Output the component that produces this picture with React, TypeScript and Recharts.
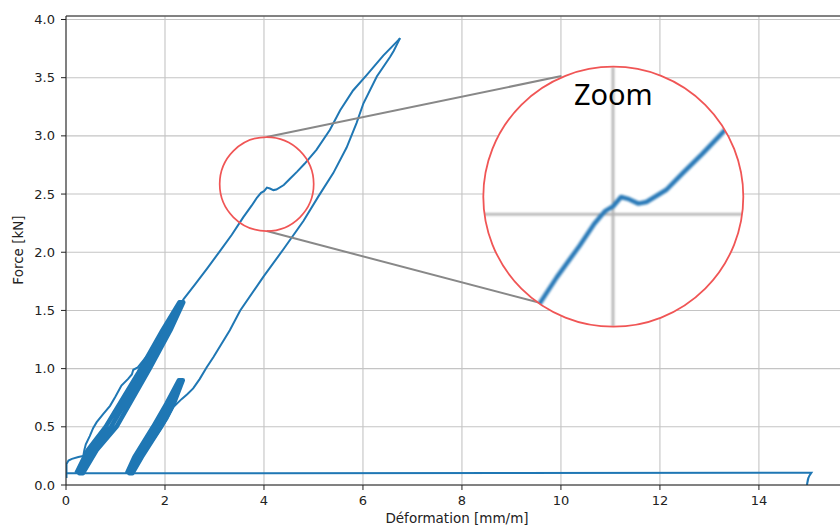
import React from 'react';
import { LineChart, Line, XAxis, YAxis, CartesianGrid, ReferenceLine, ReferenceDot } from 'recharts';

// ---------- data ----------
const X_TICKS = [0, 2, 4, 6, 8, 10, 12, 14];
const Y_TICKS = [0, 0.5, 1, 1.5, 2, 2.5, 3, 3.5, 4];
const X_MAX = 15.8;
const Y_MAX = 4.03;

// initial loading, then final loading up to peak
const LOADING: [number, number][] = [
  [0.01, 0.06], [0.01, 0.1], [0.01, 0.18], [0.05, 0.21], [0.12, 0.225], [0.25, 0.24], [0.35, 0.25],
  [0.37, 0.3], [0.4, 0.35], [0.48, 0.42], [0.55, 0.49], [0.62, 0.54], [0.75, 0.61], [0.89, 0.68],
  [1.0, 0.76], [1.12, 0.855], [1.25, 0.91], [1.33, 0.95], [1.36, 0.99], [1.45, 1.01], [1.58, 1.08],
  [1.7, 1.14], [1.92, 1.3], [2.15, 1.45], [2.38, 1.6], [2.6, 1.72], [2.85, 1.86], [3.11, 2.01],
  [3.35, 2.15], [3.58, 2.3], [3.75, 2.4], [3.86, 2.47], [3.94, 2.51], [4.0, 2.525], [4.06, 2.555],
  [4.12, 2.548], [4.19, 2.534], [4.25, 2.539], [4.4, 2.578], [4.52, 2.63], [4.67, 2.693], [4.82, 2.76],
  [5.06, 2.88], [5.33, 3.05], [5.54, 3.22], [5.8, 3.39], [6.07, 3.52], [6.41, 3.69], [6.71, 3.82],
  [6.75, 3.84],
];

// unloading from peak
const UNLOADING: [number, number][] = [
  [6.75, 3.84], [6.62, 3.73], [6.55, 3.68], [6.28, 3.51], [6.01, 3.28], [5.87, 3.11], [5.67, 2.9],
  [5.4, 2.68], [5.1, 2.48], [4.8, 2.27], [4.4, 2.03], [3.99, 1.79], [3.52, 1.5], [3.31, 1.33],
  [2.98, 1.1], [2.84, 1.01], [2.7, 0.91], [2.57, 0.83], [2.45, 0.78], [2.34, 0.74], [2.17, 0.67],
  [2.05, 0.57], [1.9, 0.47], [1.7, 0.35], [1.49, 0.25], [1.36, 0.21], [1.32, 0.15], [1.3, 0.1],
];

// return path at low force
const BASELINE: [number, number][] = [
  [0.01, 0.1], [15.06, 0.105], [15.02, 0.08], [14.99, 0.05], [14.97, 0.0], [14.99, 0.04], [15.0, 0.06],
];

// repeated cycles (dense bands)
const BAND_1: [number, number][] = [
  [0.21, 0.1], [0.44, 0.3], [0.8, 0.5], [1.47, 0.97], [1.95, 1.33], [2.29, 1.57],
  [2.37, 1.57], [2.11, 1.33], [1.69, 1.0], [1.02, 0.5], [0.62, 0.3], [0.34, 0.1],
  [0.27, 0.1], [0.53, 0.3], [0.91, 0.5], [1.58, 0.99], [2.03, 1.33], [2.33, 1.57],
];
const BAND_2: [number, number][] = [
  [1.23, 0.1], [1.38, 0.24], [1.76, 0.5], [2.03, 0.7], [2.28, 0.9],
  [2.36, 0.9], [2.18, 0.7], [1.92, 0.5], [1.53, 0.24], [1.34, 0.1],
  [1.28, 0.1], [1.45, 0.24], [1.84, 0.5], [2.1, 0.7], [2.32, 0.9],
];

// zoom annotation (data coordinates)
const ZOOM_SPOT = { x: 4.055, y: 2.586 };
const ZOOM_TOP = { x: 4.055, y: 2.99 };
const ZOOM_BOTTOM = { x: 4.055, y: 2.182 };
const INSET_TOP_END = { x: 10.01, y: 3.514 };
const INSET_BOTTOM_END = { x: 9.61, y: 1.561 };
const INSET_CENTER = { x: 4.0, y: 2.555 };
const INSET_MAG = 2.7;

const toPts = (a: [number, number][]) => a.map(([x, y]) => ({ x, y }));

const BLUE = '#1f77b4';
const RED = '#f05555';
const FONT = 'DejaVu Sans';

// ---------- layout ----------
const W = 860;
const H = 527;
const MARGIN = { top: 16, right: 12, bottom: 6, left: 8 };
const Y_AXIS_W = 58;
const X_AXIS_H = 36;
const PLOT_L = MARGIN.left + Y_AXIS_W;
const PLOT_R = W - MARGIN.right;
const PLOT_T = MARGIN.top;
const PLOT_B = H - MARGIN.bottom - X_AXIS_H;
const PX_X = (PLOT_R - PLOT_L) / X_MAX;
const PX_Y = (PLOT_B - PLOT_T) / Y_MAX;

const INSET_R = 130;
const INSET_CX = 613.3;
const INSET_CY = 196.7;

const YLabel = () => (
  <text x={23} y={250} transform="rotate(-90 23 250)" textAnchor="middle" fontFamily={FONT} fontSize={13.5} fill="#222">
    Force [kN]
  </text>
);
const XLabel = () => (
  <text x={(PLOT_L + PLOT_R) / 2} y={523} textAnchor="middle" fontFamily={FONT} fontSize={13.5} fill="#222">
    Déformation [mm/m]
  </text>
);

export default function App() {
  const hx = INSET_R / (PX_X * INSET_MAG);
  const hy = INSET_R / (PX_Y * INSET_MAG);
  const tick = { fontFamily: FONT, fontSize: 13, fill: '#222' };
  return (
    <div style={{ position: 'fixed', left: 0, top: 0, width: 840, height: 527, overflow: 'hidden', background: '#fff' }}>
      <LineChart width={W} height={H} margin={MARGIN}>
        <CartesianGrid stroke="#c4c4c4" strokeWidth={1.1} />
        <XAxis
          type="number"
          dataKey="x"
          domain={[0, X_MAX]}
          ticks={X_TICKS}
          allowDataOverflow
          height={X_AXIS_H}
          tick={tick}
          tickSize={5}
          tickMargin={6}
          stroke="#222"
          label={<XLabel />}
        />
        <YAxis
          type="number"
          dataKey="y"
          domain={[0, Y_MAX]}
          ticks={Y_TICKS}
          allowDataOverflow
          width={Y_AXIS_W}
          tick={tick}
          tickSize={5}
          tickMargin={6}
          tickFormatter={(v: number) => v.toFixed(1)}
          stroke="#222"
          label={<YLabel />}
        />
        <ReferenceLine y={Y_MAX} stroke="#222" strokeWidth={1} />
        <Line data={toPts(BASELINE)} dataKey="y" stroke={BLUE} strokeWidth={2} dot={false} isAnimationActive={false} />
        <Line data={toPts(BAND_1)} dataKey="y" stroke={BLUE} strokeWidth={4.5} strokeLinejoin="round" dot={false} isAnimationActive={false} />
        <Line data={toPts(BAND_2)} dataKey="y" stroke={BLUE} strokeWidth={4.5} strokeLinejoin="round" dot={false} isAnimationActive={false} />
        <Line data={toPts(LOADING)} dataKey="y" stroke={BLUE} strokeWidth={2} dot={false} isAnimationActive={false} />
        <Line data={toPts(UNLOADING)} dataKey="y" stroke={BLUE} strokeWidth={2} dot={false} isAnimationActive={false} />
        <ReferenceLine segment={[ZOOM_TOP, INSET_TOP_END]} stroke="#888" strokeWidth={2} />
        <ReferenceLine segment={[ZOOM_BOTTOM, INSET_BOTTOM_END]} stroke="#888" strokeWidth={2} />
        <ReferenceDot x={ZOOM_SPOT.x} y={ZOOM_SPOT.y} r={47} fill="none" stroke={RED} strokeWidth={1.7} />
      </LineChart>

      <div
        style={{
          position: 'absolute',
          left: INSET_CX - INSET_R,
          top: INSET_CY - INSET_R,
          width: INSET_R * 2,
          height: INSET_R * 2,
          borderRadius: '50%',
          overflow: 'hidden',
          background: '#fff',
        }}
      >
        <div style={{ filter: 'blur(0.8px)' }}>
          <LineChart width={INSET_R * 2} height={INSET_R * 2} margin={{ top: 0, right: 0, bottom: 0, left: 0 }}>
            <XAxis type="number" dataKey="x" hide allowDataOverflow domain={[INSET_CENTER.x - hx, INSET_CENTER.x + hx]} />
            <YAxis type="number" dataKey="y" hide allowDataOverflow domain={[INSET_CENTER.y - hy, INSET_CENTER.y + hy]} />
            <ReferenceLine x={4} stroke="#b0b0b0" strokeWidth={2.6} />
            <ReferenceLine y={2.5} stroke="#b0b0b0" strokeWidth={2.6} />
            <Line data={toPts(LOADING)} dataKey="y" stroke="#2a7ab8" strokeWidth={4.5} strokeLinejoin="round" dot={false} isAnimationActive={false} />
          </LineChart>
        </div>
      </div>

      <svg width={840} height={527} style={{ position: 'absolute', left: 0, top: 0, pointerEvents: 'none' }}>
        <circle cx={INSET_CX} cy={INSET_CY} r={INSET_R} fill="none" stroke={RED} strokeWidth={1.8} />
        <text x={INSET_CX} y={105} textAnchor="middle" fontFamily="Noto Sans" fontSize={29} fill="#000">
          Zoom
        </text>
      </svg>
    </div>
  );
}
